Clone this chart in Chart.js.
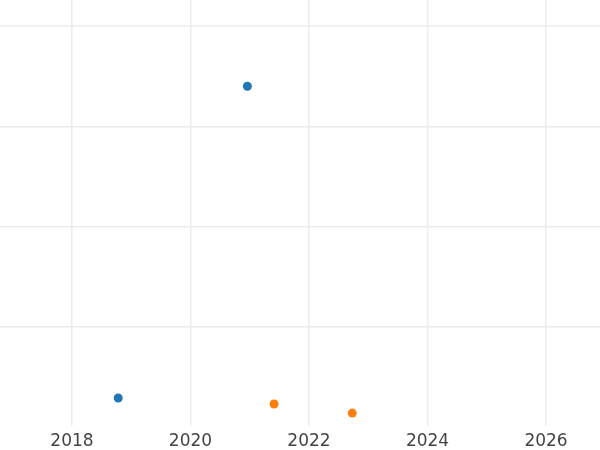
<!DOCTYPE html>
<html>
<head>
<meta charset="utf-8">
<script src="https://cdn.jsdelivr.net/npm/chart.js@4"></script>
<style>
  html, body { margin: 0; padding: 0; background: #fff; }
  #wrap { width: 600px; height: 450px; }
</style>
</head>
<body>
<div id="wrap"><canvas id="scatterChart"></canvas></div>
<script>
// data
const blueX = [2018.78, 2020.96];
const blueY = [0.29, 3.40];
const orangeX = [2021.41, 2022.73];
const orangeY = [0.23, 0.14];
const xTicks = [2018, 2020, 2022, 2024, 2026];

const toPoints = (xs, ys) => xs.map((x, i) => ({ x: x, y: ys[i] }));

const ctx = document.getElementById('scatterChart').getContext('2d');
new Chart(ctx, {
  type: 'scatter',
  data: {
    datasets: [{
      label: 'A',
      data: toPoints(blueX, blueY),
      backgroundColor: '#1f77b4',
      borderColor: '#1f77b4',
      pointRadius: 4.5,
      pointBorderWidth: 0
    }, {
      label: 'B',
      data: toPoints(orangeX, orangeY),
      backgroundColor: '#ff7f0e',
      borderColor: '#ff7f0e',
      pointRadius: 4.5,
      pointBorderWidth: 0
    }]
  },
  options: {
    responsive: true,
    maintainAspectRatio: false,
    animation: false,
    layout: { autoPadding: false, padding: { top: 0, left: 0, right: 0, bottom: -7.5 } },
    plugins: {
      legend: { display: false },
      tooltip: { enabled: false }
    },
    scales: {
      x: {
        type: 'linear',
        min: 2016.785,
        max: 2026.911,
        border: { display: false },
        grid: { color: '#ececec', lineWidth: 1.5, drawTicks: false },
        afterBuildTicks: axis => { axis.ticks = xTicks.map(v => ({ value: v })); },
        ticks: {
          padding: 5.5,
          color: '#444',
          font: { family: 'DejaVu Sans', size: 17 },
          callback: v => String(v)
        }
      },
      y: {
        min: 0.01,
        max: 4.26,
        border: { display: false },
        grid: { color: '#ececec', lineWidth: 1.5, drawTicks: false },
        ticks: { display: false, stepSize: 1, includeBounds: false }
      }
    }
  }
});
</script>
</body>
</html>
